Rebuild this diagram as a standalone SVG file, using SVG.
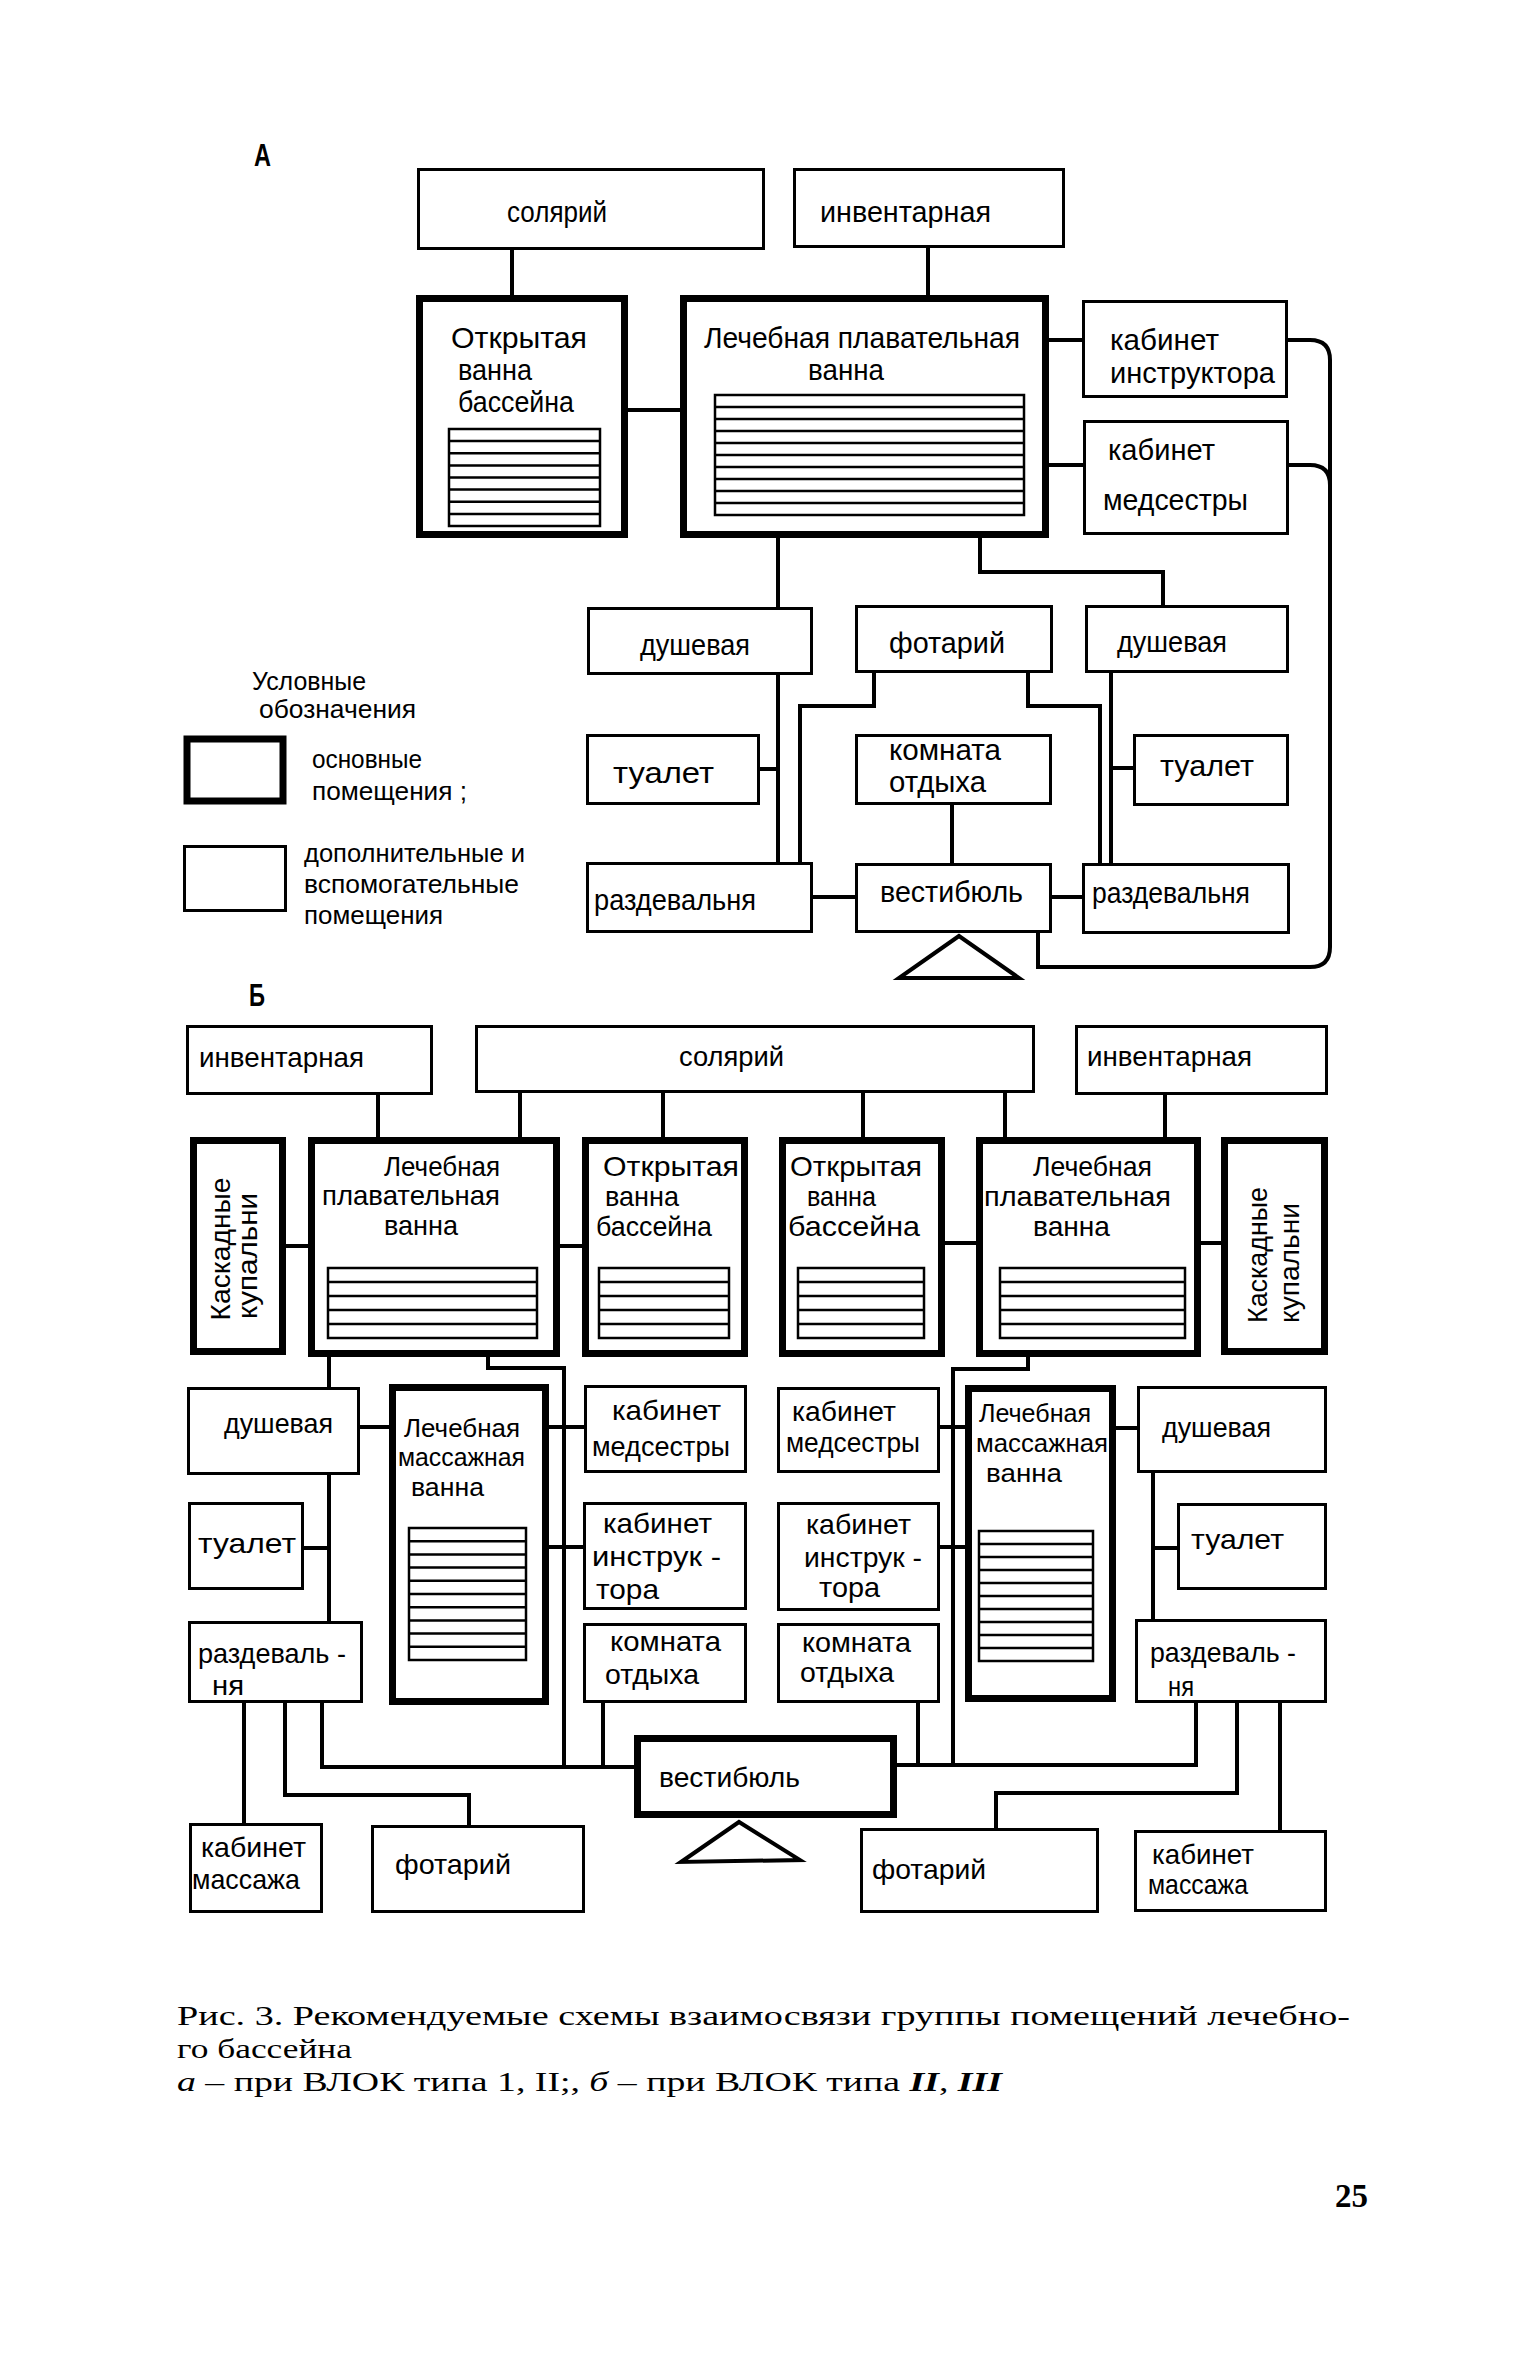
<svg xmlns="http://www.w3.org/2000/svg" width="1536" height="2363" viewBox="0 0 1536 2363">
<style>
.bg{fill:#fff}
.thin{fill:#fff;stroke:#000;stroke-width:3}
.thick{fill:#fff;stroke:#000;stroke-width:7}
.pool{fill:#fff;stroke:#000;stroke-width:2.5}
.hl{fill:none;stroke:#000;stroke-width:2.5}
.ln{fill:none;stroke:#000;stroke-width:4;stroke-linejoin:miter}
.tri{fill:#fff;stroke:#000;stroke-width:4;stroke-linejoin:miter}
text{font-family:"Liberation Sans",Arial,sans-serif;fill:#000}
.t{font-size:29px}
.tb{font-size:28px}
.ts{font-size:25px}
.lg{font-size:26px}
.lbl{font-size:32px;font-weight:bold}
.cap{font-family:"Liberation Serif","Times New Roman",serif;font-size:28px}
.pg{font-family:"Liberation Serif","Times New Roman",serif;font-size:34px;font-weight:bold}
</style>
<rect class="bg" x="0" y="0" width="1536" height="2363"/>

<g id="connectors">
<!-- A -->
<path class="ln" d="M512,250 V296"/>
<path class="ln" d="M928,248 V295"/>
<path class="ln" d="M628,410 H680"/>
<path class="ln" d="M1049,340 H1082"/>
<path class="ln" d="M1049,465 H1083"/>
<path class="ln" d="M1288,340 H1310 Q1330,340 1330,360 V947 Q1330,967 1310,967 H1038 V933"/>
<path class="ln" d="M1289,465 H1310 Q1330,465 1330,485"/>
<path class="ln" d="M778,538 V607"/>
<path class="ln" d="M778,675 V862"/>
<path class="ln" d="M760,769 H778"/>
<path class="ln" d="M980,538 V572 H1163 V605"/>
<path class="ln" d="M874,673 V706 H800 V862"/>
<path class="ln" d="M1028,673 V706 H1100 V863"/>
<path class="ln" d="M1111,673 V863"/>
<path class="ln" d="M1111,768 H1133"/>
<path class="ln" d="M952,805 V863"/>
<path class="ln" d="M813,897 H855"/>
<path class="ln" d="M1052,897 H1082"/>
<!-- B -->
<path class="ln" d="M378,1095 V1137"/>
<path class="ln" d="M520,1093 V1137"/>
<path class="ln" d="M663,1093 V1137"/>
<path class="ln" d="M863,1093 V1137"/>
<path class="ln" d="M1005,1093 V1137"/>
<path class="ln" d="M1165,1095 V1137"/>
<path class="ln" d="M286,1246 H308"/>
<path class="ln" d="M560,1246 H582"/>
<path class="ln" d="M945,1243 H976"/>
<path class="ln" d="M1201,1243 H1221"/>
<path class="ln" d="M329,1357 V1387"/>
<path class="ln" d="M329,1475 V1621"/>
<path class="ln" d="M304,1548 H329"/>
<path class="ln" d="M360,1427 H389"/>
<path class="ln" d="M488,1357 V1368 H564 V1767"/>
<path class="ln" d="M549,1427 H584"/>
<path class="ln" d="M549,1547 H583"/>
<path class="ln" d="M603,1703 V1767"/>
<path class="ln" d="M322,1703 V1767 H634"/>
<path class="ln" d="M285,1703 V1795 H469 V1825"/>
<path class="ln" d="M244,1703 V1823"/>
<path class="ln" d="M1028,1357 V1369 H953 V1765"/>
<path class="ln" d="M940,1427 H965"/>
<path class="ln" d="M940,1547 H965"/>
<path class="ln" d="M918,1703 V1765"/>
<path class="ln" d="M897,1765 H1196 V1703"/>
<path class="ln" d="M1237,1703 V1793 H996 V1828"/>
<path class="ln" d="M1280,1703 V1830"/>
<path class="ln" d="M1116,1428 H1137"/>
<path class="ln" d="M1153,1473 V1619"/>
<path class="ln" d="M1153,1548 H1177"/>
</g>

<!-- labels -->
<text class="lbl" x="254" y="166" textLength="17" lengthAdjust="spacingAndGlyphs">А</text>
<text class="lbl" x="249" y="1006" textLength="16" lengthAdjust="spacingAndGlyphs">Б</text>

<!-- ===== A ===== -->
<g id="a-solariy">
<rect class="thin" x="418.5" y="169.5" width="345" height="79"/>
<text class="t" x="507" y="222" textLength="100" lengthAdjust="spacingAndGlyphs">солярий</text>
</g>
<g id="a-inventarnaya">
<rect class="thin" x="794.5" y="169.5" width="269" height="77"/>
<text class="t" x="820" y="222" textLength="171" lengthAdjust="spacingAndGlyphs">инвентарная</text>
</g>
<g id="a-otkrytaya">
<rect class="thick" x="419.5" y="298.5" width="205" height="236"/>
<text class="t" x="451" y="348" textLength="136" lengthAdjust="spacingAndGlyphs">Открытая</text>
<text class="t" x="458" y="380" textLength="74" lengthAdjust="spacingAndGlyphs">ванна</text>
<text class="t" x="458" y="412" textLength="116" lengthAdjust="spacingAndGlyphs">бассейна</text>
<rect class="pool" x="449" y="429" width="151" height="97"/>
<path class="hl" d="M449,441.1H600M449,453.3H600M449,465.4H600M449,477.5H600M449,489.6H600M449,501.8H600M449,513.9H600"/>
</g>
<g id="a-lechebnaya">
<rect class="thick" x="683.5" y="298.5" width="362" height="236"/>
<text class="t" x="704" y="348" textLength="316" lengthAdjust="spacingAndGlyphs">Лечебная плавательная</text>
<text class="t" x="808" y="380" textLength="76" lengthAdjust="spacingAndGlyphs">ванна</text>
<rect class="pool" x="715" y="395" width="309" height="120"/>
<path class="hl" d="M715,407H1024M715,419H1024M715,431H1024M715,443H1024M715,455H1024M715,467H1024M715,479H1024M715,491H1024M715,503H1024"/>
</g>
<g id="a-kab-instr">
<rect class="thin" x="1083.5" y="301.5" width="203" height="95"/>
<text class="t" x="1110" y="350" textLength="109" lengthAdjust="spacingAndGlyphs">кабинет</text>
<text class="t" x="1110" y="383" textLength="165" lengthAdjust="spacingAndGlyphs">инструктора</text>
</g>
<g id="a-kab-med">
<rect class="thin" x="1084.5" y="421.5" width="203" height="112"/>
<text class="t" x="1108" y="460" textLength="107" lengthAdjust="spacingAndGlyphs">кабинет</text>
<text class="t" x="1103" y="510" textLength="145" lengthAdjust="spacingAndGlyphs">медсестры</text>
</g>
<g id="a-dush-l">
<rect class="thin" x="588.5" y="608.5" width="223" height="65"/>
<text class="t" x="640" y="655" textLength="110" lengthAdjust="spacingAndGlyphs">душевая</text>
</g>
<g id="a-fotariy">
<rect class="thin" x="856.5" y="606.5" width="195" height="65"/>
<text class="t" x="889" y="653" textLength="116" lengthAdjust="spacingAndGlyphs">фотарий</text>
</g>
<g id="a-dush-r">
<rect class="thin" x="1086.5" y="606.5" width="201" height="65"/>
<text class="t" x="1117" y="652" textLength="110" lengthAdjust="spacingAndGlyphs">душевая</text>
</g>
<g id="a-tual-l">
<rect class="thin" x="587.5" y="735.5" width="171" height="68"/>
<text class="t" x="613" y="783" textLength="101" lengthAdjust="spacingAndGlyphs">туалет</text>
</g>
<g id="a-komnata">
<rect class="thin" x="856.5" y="735.5" width="194" height="68"/>
<text class="t" x="889" y="760" textLength="112" lengthAdjust="spacingAndGlyphs">комната</text>
<text class="t" x="889" y="792" textLength="97" lengthAdjust="spacingAndGlyphs">отдыха</text>
</g>
<g id="a-tual-r">
<rect class="thin" x="1134.5" y="735.5" width="153" height="69"/>
<text class="t" x="1160" y="776" textLength="94" lengthAdjust="spacingAndGlyphs">туалет</text>
</g>
<g id="a-razd-l">
<rect class="thin" x="587.5" y="863.5" width="224" height="68"/>
<text class="t" x="594" y="910" textLength="162" lengthAdjust="spacingAndGlyphs">раздевальня</text>
</g>
<g id="a-vestibul">
<rect class="thin" x="856.5" y="864.5" width="194" height="67"/>
<text class="t" x="880" y="902" textLength="143" lengthAdjust="spacingAndGlyphs">вестибюль</text>
</g>
<g id="a-razd-r">
<rect class="thin" x="1083.5" y="864.5" width="205" height="68"/>
<text class="t" x="1092" y="903" textLength="158" lengthAdjust="spacingAndGlyphs">раздевальня</text>
</g>
<g id="a-entrance">
<polygon class="tri" points="959,936 899,978 1019,978"/>
</g>

<!-- legend -->
<g id="legend">
<text class="lg" x="252" y="690" textLength="114" lengthAdjust="spacingAndGlyphs">Условные</text>
<text class="lg" x="259" y="718" textLength="157" lengthAdjust="spacingAndGlyphs">обозначения</text>
<rect class="thick" x="187" y="739" width="96" height="62"/>
<text class="lg" x="312" y="768" textLength="110" lengthAdjust="spacingAndGlyphs">основные</text>
<text class="lg" x="312" y="800" textLength="155" lengthAdjust="spacingAndGlyphs">помещения ;</text>
<rect class="thin" x="184.5" y="846.5" width="101" height="64"/>
<text class="lg" x="304" y="862" textLength="221" lengthAdjust="spacingAndGlyphs">дополнительные и</text>
<text class="lg" x="304" y="893" textLength="215" lengthAdjust="spacingAndGlyphs">вспомогательные</text>
<text class="lg" x="304" y="924" textLength="139" lengthAdjust="spacingAndGlyphs">помещения</text>
</g>

<!-- ===== B ===== -->
<g id="b-invent-l">
<rect class="thin" x="187.5" y="1026.5" width="244" height="67"/>
<text class="tb" x="199" y="1067" textLength="165" lengthAdjust="spacingAndGlyphs">инвентарная</text>
</g>
<g id="b-solariy">
<rect class="thin" x="476.5" y="1026.5" width="557" height="65"/>
<text class="tb" x="679" y="1066" textLength="105" lengthAdjust="spacingAndGlyphs">солярий</text>
</g>
<g id="b-invent-r">
<rect class="thin" x="1076.5" y="1026.5" width="250" height="67"/>
<text class="tb" x="1087" y="1066" textLength="165" lengthAdjust="spacingAndGlyphs">инвентарная</text>
</g>
<g id="b-kaskad-l">
<rect class="thick" x="193.5" y="1140.5" width="89" height="211"/>
<text class="tb" text-anchor="middle" transform="translate(230,1249) rotate(-90)" textLength="143" lengthAdjust="spacingAndGlyphs">Каскадные</text>
<text class="tb" text-anchor="middle" transform="translate(257,1256) rotate(-90)" textLength="126" lengthAdjust="spacingAndGlyphs">купальни</text>
</g>
<g id="b-lech-l">
<rect class="thick" x="311.5" y="1140.5" width="245" height="213"/>
<text class="tb" x="384" y="1176" textLength="116" lengthAdjust="spacingAndGlyphs">Лечебная</text>
<text class="tb" x="322" y="1205" textLength="178" lengthAdjust="spacingAndGlyphs">плавательная</text>
<text class="tb" x="384" y="1235" textLength="74" lengthAdjust="spacingAndGlyphs">ванна</text>
<rect class="pool" x="328" y="1268" width="209" height="70"/>
<path class="hl" d="M328,1282H537M328,1296H537M328,1310H537M328,1324H537"/>
</g>
<g id="b-otkr-l">
<rect class="thick" x="585.5" y="1140.5" width="159" height="213"/>
<text class="tb" x="603" y="1176" textLength="136" lengthAdjust="spacingAndGlyphs">Открытая</text>
<text class="tb" x="605" y="1206" textLength="74" lengthAdjust="spacingAndGlyphs">ванна</text>
<text class="tb" x="596" y="1236" textLength="116" lengthAdjust="spacingAndGlyphs">бассейна</text>
<rect class="pool" x="599" y="1268" width="130" height="70"/>
<path class="hl" d="M599,1282H729M599,1296H729M599,1310H729M599,1324H729"/>
</g>
<g id="b-otkr-r">
<rect class="thick" x="782.5" y="1140.5" width="159" height="213"/>
<text class="tb" x="790" y="1176" textLength="132" lengthAdjust="spacingAndGlyphs">Открытая</text>
<text class="tb" x="807" y="1206" textLength="69" lengthAdjust="spacingAndGlyphs">ванна</text>
<text class="tb" x="788" y="1236" textLength="132" lengthAdjust="spacingAndGlyphs">бассейна</text>
<rect class="pool" x="798" y="1268" width="126" height="70"/>
<path class="hl" d="M798,1282H924M798,1296H924M798,1310H924M798,1324H924"/>
</g>
<g id="b-lech-r">
<rect class="thick" x="979.5" y="1140.5" width="218" height="213"/>
<text class="tb" x="1033" y="1176" textLength="119" lengthAdjust="spacingAndGlyphs">Лечебная</text>
<text class="tb" x="984" y="1206" textLength="187" lengthAdjust="spacingAndGlyphs">плавательная</text>
<text class="tb" x="1033" y="1236" textLength="77" lengthAdjust="spacingAndGlyphs">ванна</text>
<rect class="pool" x="1000" y="1268" width="185" height="70"/>
<path class="hl" d="M1000,1282H1185M1000,1296H1185M1000,1310H1185M1000,1324H1185"/>
</g>
<g id="b-kaskad-r">
<rect class="thick" x="1224.5" y="1140.5" width="100" height="211"/>
<text class="tb" text-anchor="middle" transform="translate(1267,1255) rotate(-90)" textLength="136" lengthAdjust="spacingAndGlyphs">Каскадные</text>
<text class="tb" text-anchor="middle" transform="translate(1299,1263) rotate(-90)" textLength="120" lengthAdjust="spacingAndGlyphs">купальни</text>
</g>

<g id="b-dush-l">
<rect class="thin" x="188.5" y="1388.5" width="170" height="85"/>
<text class="tb" x="224" y="1433" textLength="109" lengthAdjust="spacingAndGlyphs">душевая</text>
</g>
<g id="b-tual-l">
<rect class="thin" x="189.5" y="1503.5" width="113" height="85"/>
<text class="tb" x="198" y="1553" textLength="98" lengthAdjust="spacingAndGlyphs">туалет</text>
</g>
<g id="b-razd-l">
<rect class="thin" x="189.5" y="1622.5" width="172" height="79"/>
<text class="tb" x="198" y="1663" textLength="148" lengthAdjust="spacingAndGlyphs">раздеваль -</text>
<text class="tb" x="212" y="1695" textLength="32" lengthAdjust="spacingAndGlyphs">ня</text>
</g>
<g id="b-mass-l">
<rect class="thick" x="392.5" y="1387.5" width="153" height="314"/>
<text class="ts" x="404" y="1437" textLength="116" lengthAdjust="spacingAndGlyphs">Лечебная</text>
<text class="ts" x="398" y="1466" textLength="127" lengthAdjust="spacingAndGlyphs">массажная</text>
<text class="ts" x="411" y="1496" textLength="73" lengthAdjust="spacingAndGlyphs">ванна</text>
<rect class="pool" x="409" y="1528" width="117" height="132"/>
<path class="hl" d="M409,1541.2H526M409,1554.4H526M409,1567.6H526M409,1580.8H526M409,1594H526M409,1607.2H526M409,1620.4H526M409,1633.6H526M409,1646.8H526"/>
</g>
<g id="b-kabmed-l">
<rect class="thin" x="585.5" y="1386.5" width="160" height="85"/>
<text class="tb" x="612" y="1420" textLength="109" lengthAdjust="spacingAndGlyphs">кабинет</text>
<text class="tb" x="592" y="1456" textLength="138" lengthAdjust="spacingAndGlyphs">медсестры</text>
</g>
<g id="b-kabinstr-l">
<rect class="thin" x="584.5" y="1503.5" width="161" height="105"/>
<text class="tb" x="603" y="1533" textLength="109" lengthAdjust="spacingAndGlyphs">кабинет</text>
<text class="tb" x="592" y="1566" textLength="129" lengthAdjust="spacingAndGlyphs">инструк -</text>
<text class="tb" x="596" y="1599" textLength="63" lengthAdjust="spacingAndGlyphs">тора</text>
</g>
<g id="b-komn-l">
<rect class="thin" x="584.5" y="1624.5" width="161" height="77"/>
<text class="tb" x="610" y="1651" textLength="111" lengthAdjust="spacingAndGlyphs">комната</text>
<text class="tb" x="605" y="1684" textLength="94" lengthAdjust="spacingAndGlyphs">отдыха</text>
</g>
<g id="b-kabmed-r">
<rect class="thin" x="778.5" y="1388.5" width="160" height="83"/>
<text class="tb" x="792" y="1421" textLength="104" lengthAdjust="spacingAndGlyphs">кабинет</text>
<text class="tb" x="786" y="1452" textLength="134" lengthAdjust="spacingAndGlyphs">медсестры</text>
</g>
<g id="b-kabinstr-r">
<rect class="thin" x="778.5" y="1503.5" width="160" height="106"/>
<text class="tb" x="806" y="1534" textLength="105" lengthAdjust="spacingAndGlyphs">кабинет</text>
<text class="tb" x="804" y="1567" textLength="118" lengthAdjust="spacingAndGlyphs">инструк -</text>
<text class="tb" x="819" y="1597" textLength="61" lengthAdjust="spacingAndGlyphs">тора</text>
</g>
<g id="b-komn-r">
<rect class="thin" x="778.5" y="1624.5" width="160" height="77"/>
<text class="tb" x="802" y="1652" textLength="109" lengthAdjust="spacingAndGlyphs">комната</text>
<text class="tb" x="800" y="1682" textLength="94" lengthAdjust="spacingAndGlyphs">отдыха</text>
</g>
<g id="b-mass-r">
<rect class="thick" x="968.5" y="1388.5" width="144" height="310"/>
<text class="ts" x="979" y="1422" textLength="112" lengthAdjust="spacingAndGlyphs">Лечебная</text>
<text class="ts" x="976" y="1452" textLength="132" lengthAdjust="spacingAndGlyphs">массажная</text>
<text class="ts" x="986" y="1482" textLength="76" lengthAdjust="spacingAndGlyphs">ванна</text>
<rect class="pool" x="979" y="1531" width="114" height="130"/>
<path class="hl" d="M979,1544H1093M979,1557H1093M979,1570H1093M979,1583H1093M979,1596H1093M979,1609H1093M979,1622H1093M979,1635H1093M979,1648H1093"/>
</g>
<g id="b-dush-r">
<rect class="thin" x="1138.5" y="1387.5" width="187" height="84"/>
<text class="tb" x="1162" y="1437" textLength="109" lengthAdjust="spacingAndGlyphs">душевая</text>
</g>
<g id="b-tual-r">
<rect class="thin" x="1178.5" y="1504.5" width="147" height="84"/>
<text class="tb" x="1191" y="1549" textLength="93" lengthAdjust="spacingAndGlyphs">туалет</text>
</g>
<g id="b-razd-r">
<rect class="thin" x="1136.5" y="1620.5" width="189" height="81"/>
<text class="tb" x="1150" y="1662" textLength="146" lengthAdjust="spacingAndGlyphs">раздеваль -</text>
<text class="tb" x="1168" y="1696" textLength="26" lengthAdjust="spacingAndGlyphs">ня</text>
</g>
<g id="b-vestibul">
<rect class="thick" x="637.5" y="1738.5" width="256" height="76"/>
<text class="tb" x="659" y="1787" textLength="141" lengthAdjust="spacingAndGlyphs">вестибюль</text>
</g>
<g id="b-entrance">
<polygon class="tri" points="739,1822 681,1862 800,1860"/>
</g>
<g id="b-kabmass-l">
<rect class="thin" x="190.5" y="1824.5" width="131" height="87"/>
<text class="tb" x="201" y="1857" textLength="105" lengthAdjust="spacingAndGlyphs">кабинет</text>
<text class="tb" x="192" y="1889" textLength="108" lengthAdjust="spacingAndGlyphs">массажа</text>
</g>
<g id="b-fotar-l">
<rect class="thin" x="372.5" y="1826.5" width="211" height="85"/>
<text class="tb" x="395" y="1874" textLength="116" lengthAdjust="spacingAndGlyphs">фотарий</text>
</g>
<g id="b-fotar-r">
<rect class="thin" x="861.5" y="1829.5" width="236" height="82"/>
<text class="tb" x="872" y="1879" textLength="114" lengthAdjust="spacingAndGlyphs">фотарий</text>
</g>
<g id="b-kabmass-r">
<rect class="thin" x="1135.5" y="1831.5" width="190" height="79"/>
<text class="tb" x="1152" y="1864" textLength="102" lengthAdjust="spacingAndGlyphs">кабинет</text>
<text class="tb" x="1148" y="1894" textLength="100" lengthAdjust="spacingAndGlyphs">массажа</text>
</g>

<!-- caption -->
<g id="caption">
<text class="cap" x="177" y="2025" textLength="1173" lengthAdjust="spacingAndGlyphs">Рис. 3. Рекомендуемые схемы взаимосвязи группы помещений лечебно-</text>
<text class="cap" x="177" y="2058" textLength="175" lengthAdjust="spacingAndGlyphs">го бассейна</text>
<text class="cap" x="177" y="2091" textLength="825" lengthAdjust="spacingAndGlyphs"><tspan font-style="italic">а</tspan> – при ВЛОК типа 1, II;,  <tspan font-style="italic">б</tspan> – при ВЛОК типа <tspan font-style="italic" font-weight="bold">II</tspan>, <tspan font-style="italic" font-weight="bold">III</tspan></text>
<text class="pg" x="1335" y="2207" textLength="33" lengthAdjust="spacingAndGlyphs">25</text>
</g>
</svg>
